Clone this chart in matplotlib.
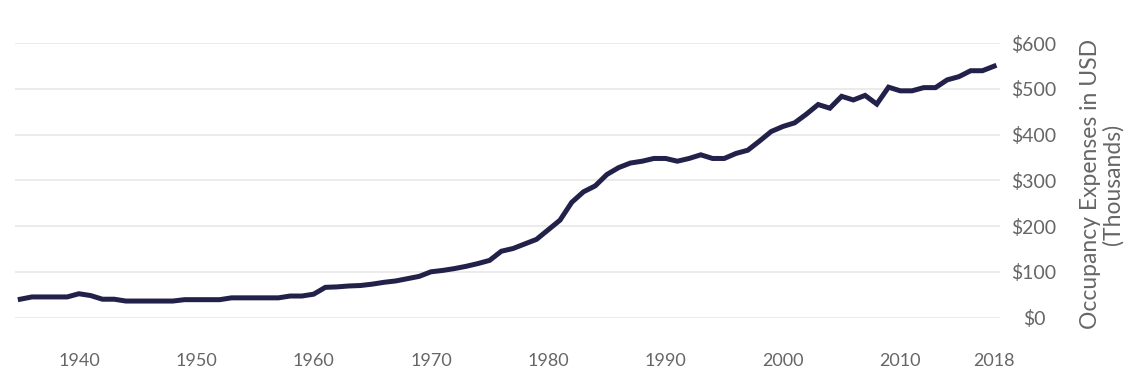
import matplotlib
matplotlib.use("Agg")
import matplotlib.pyplot as plt

years = list(range(1935, 2019))
expenses = [
    40, 45, 45, 45, 45, 52, 48, 40, 40, 36,   # 1935-1944
    36, 36, 36, 36, 39, 39, 39, 39, 43, 43,   # 1945-1954
    43, 43, 43, 47, 47, 51, 66, 67, 69, 70,   # 1955-1964
    73, 77, 80, 85, 90, 100, 103, 107, 112, 118,  # 1965-1974
    125, 145, 151, 161, 171, 192, 213, 252, 275, 288,  # 1975-1984
    313, 328, 338, 342, 348, 348, 342, 348, 356, 348,  # 1985-1994
    348, 359, 366, 386, 407, 418, 426, 445, 466, 458,  # 1995-2004
    484, 476, 486, 467, 504, 496, 496, 503, 503, 520,  # 2005-2014
    527, 540, 540, 550,                                # 2015-2018
]
x_ticks = [1940, 1950, 1960, 1970, 1980, 1990, 2000, 2010, 2018]
y_ticks = [0, 100, 200, 300, 400, 500, 600]
y_tick_labels = ["$0", "$100", "$200", "$300", "$400", "$500", "$600"]
y_title = "Occupancy Expenses in USD\n(Thousands)"

plt.rcParams['font.family'] = ['Lato', 'DejaVu Sans']

W, H = 1138, 390
fig = plt.figure(figsize=(W / 100, H / 100), dpi=100)
left, right = 15 / W, 1000 / W
top, bottom = 1 - 43.3 / H, 1 - 317.5 / H
ax = fig.add_axes([left, bottom, right - left, top - bottom])

ax.plot(years, expenses, color="#22214a", linewidth=3.6, solid_joinstyle="miter",
        clip_on=False, zorder=3)

ax.set_xlim(1934.55, 2018.5)
ax.set_ylim(0, 600)

ax.set_xticks(x_ticks)
ax.set_xticklabels([str(v) for v in x_ticks])
ax.set_yticks(y_ticks)
ax.set_yticklabels(y_tick_labels)
ax.yaxis.tick_right()

ax.grid(axis="y", color="#e6e6e6", linewidth=1.1)
ax.grid(axis="x", visible=False)
ax.set_axisbelow(True)
for s in ax.spines.values():
    s.set_visible(False)

ax.tick_params(axis="x", length=0, pad=25.5, labelsize=13, labelcolor="#666666")
ax.tick_params(axis="y", length=0, pad=24.5, labelsize=14, labelcolor="#666666")
for lab in ax.get_yticklabels():
    lab.set_horizontalalignment("center")

fig.text(1101.5 / W, 1 - 184 / H, y_title, rotation=90, ha="center", va="center",
         multialignment="center", fontsize=16.5, color="#666666", linespacing=1.05)

fig.savefig("out.png", dpi=100, facecolor="white")
